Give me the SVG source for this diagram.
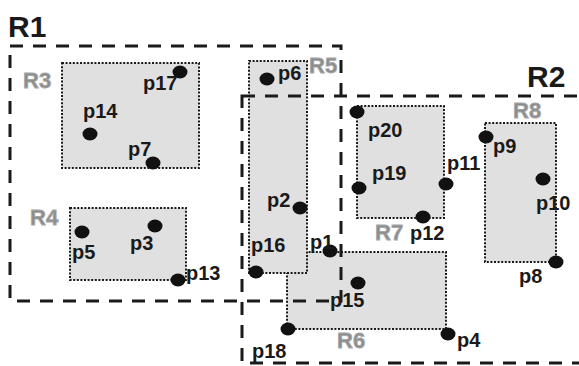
<svg xmlns="http://www.w3.org/2000/svg" width="579" height="366" viewBox="0 0 579 366">
<style>
.reg{fill:#e0e0e0;stroke:#1a1a1a;stroke-width:2;stroke-dasharray:2 1.6}
.big{fill:none;stroke:#1a1a1a;stroke-width:3;stroke-dasharray:13 10}
.pt{fill:#111}
.pl{font-family:"Liberation Sans",Arial,sans-serif;font-weight:bold;font-size:20px;fill:#1a1a1a}
.rl{font-family:"Liberation Sans",Arial,sans-serif;font-weight:bold;font-size:22px;fill:#8c8c8c;stroke:#a8a8a8;stroke-width:0.8}
.bl{font-family:"Liberation Sans",Arial,sans-serif;font-weight:bold;font-size:30px;fill:#1a1a1a}
</style>
<rect width="579" height="366" fill="#fff"/>
<g id="R3"><rect class="reg" x="62" y="63" width="137" height="105"/><text class="rl" x="23" y="88">R3</text></g>
<g id="R4"><rect class="reg" x="70" y="208" width="116" height="72"/><text class="rl" x="30" y="225">R4</text></g>
<g id="R6"><rect class="reg" x="287" y="252" width="159" height="77"/><text class="rl" x="337" y="348">R6</text></g>
<g id="R5"><rect class="reg" x="249" y="61" width="58" height="212"/><text class="rl" x="309" y="73">R5</text></g>
<g id="R7"><rect class="reg" x="357" y="106" width="87" height="112"/><text class="rl" x="375" y="240">R7</text></g>
<g id="R8"><rect class="reg" x="485" y="123" width="71" height="139"/><text class="rl" x="513" y="118">R8</text></g>
<g id="connectors">
<rect class="big" x="10" y="46" width="331" height="255"/>
<rect class="big" x="242" y="96" width="360" height="267"/>
</g>
<g id="R1"><text class="bl" x="8" y="37">R1</text></g>
<g id="R2"><text class="bl" x="527" y="87">R2</text></g>
<g id="p17"><ellipse class="pt" cx="180" cy="72" rx="7.5" ry="6.5"/><text class="pl" x="143" y="90">p17</text></g>
<g id="p14"><ellipse class="pt" cx="90" cy="134" rx="7.5" ry="6.5"/><text class="pl" x="83" y="118">p14</text></g>
<g id="p7"><ellipse class="pt" cx="153" cy="163" rx="7.5" ry="6.5"/><text class="pl" x="128" y="156">p7</text></g>
<g id="p6"><ellipse class="pt" cx="267" cy="79" rx="7.5" ry="6.5"/><text class="pl" x="278" y="80">p6</text></g>
<g id="p5"><ellipse class="pt" cx="82" cy="232" rx="7.5" ry="6.5"/><text class="pl" x="72" y="259">p5</text></g>
<g id="p3"><ellipse class="pt" cx="155" cy="226" rx="7.5" ry="6.5"/><text class="pl" x="130" y="250">p3</text></g>
<g id="p13"><ellipse class="pt" cx="178" cy="280" rx="7.5" ry="6.5"/><text class="pl" x="186" y="280">p13</text></g>
<g id="p2"><ellipse class="pt" cx="300" cy="208" rx="7.5" ry="6.5"/><text class="pl" x="267" y="207">p2</text></g>
<g id="p16"><ellipse class="pt" cx="256" cy="272" rx="7.5" ry="6.5"/><text class="pl" x="251" y="252">p16</text></g>
<g id="p1"><ellipse class="pt" cx="330" cy="251" rx="7.5" ry="6.5"/><text class="pl" x="310" y="249">p1</text></g>
<g id="p18"><ellipse class="pt" cx="288" cy="329" rx="7.5" ry="6.5"/><text class="pl" x="252" y="358">p18</text></g>
<g id="p15"><ellipse class="pt" cx="358" cy="283" rx="7.5" ry="6.5"/><text class="pl" x="330" y="307">p15</text></g>
<g id="p4"><ellipse class="pt" cx="448" cy="334" rx="7.5" ry="6.5"/><text class="pl" x="457" y="347">p4</text></g>
<g id="p20"><ellipse class="pt" cx="357" cy="112" rx="7.5" ry="6.5"/><text class="pl" x="368" y="137">p20</text></g>
<g id="p19"><ellipse class="pt" cx="359" cy="188" rx="7.5" ry="6.5"/><text class="pl" x="372" y="180">p19</text></g>
<g id="p11"><ellipse class="pt" cx="446" cy="184" rx="7.5" ry="6.5"/><text class="pl" x="447" y="170">p11</text></g>
<g id="p12"><ellipse class="pt" cx="423" cy="217" rx="7.5" ry="6.5"/><text class="pl" x="410" y="240">p12</text></g>
<g id="p9"><ellipse class="pt" cx="486" cy="137" rx="7.5" ry="6.5"/><text class="pl" x="493" y="153">p9</text></g>
<g id="p10"><ellipse class="pt" cx="543" cy="179" rx="7.5" ry="6.5"/><text class="pl" x="536" y="210">p10</text></g>
<g id="p8"><ellipse class="pt" cx="556" cy="262" rx="7.5" ry="6.5"/><text class="pl" x="519" y="283">p8</text></g>
</svg>
